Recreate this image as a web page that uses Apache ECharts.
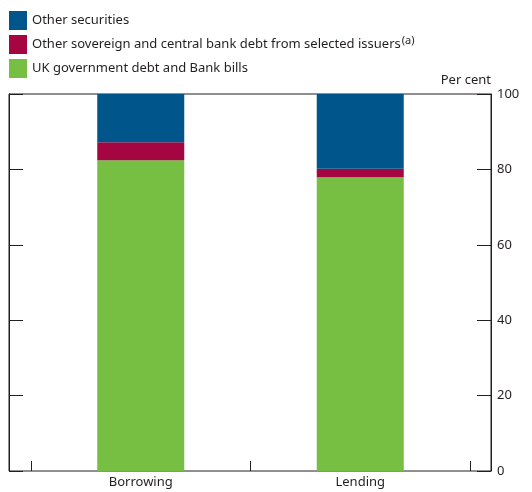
<!DOCTYPE html>
<html>
<head>
<meta charset="utf-8">
<script src="https://cdn.jsdelivr.net/npm/echarts@6/dist/echarts.min.js"></script>
<style>
  * { margin: 0; padding: 0; }
  #main { width: 532px; height: 492px; }
</style>
</head>
<body>
<div id="main"></div>
<script type="text/javascript">
  var categories = ['Borrowing', 'Lending'];
  var ukGov = [82.4, 77.9];
  var otherSov = [4.8, 2.3];
  var otherSec = [12.8, 19.8];
  var yTicks = [0, 20, 40, 60, 80, 100];

  var ink = '#231f20';
  var font = 'Noto Sans';

  var chart = echarts.init(document.getElementById('main'));

  // frame grid, bar grid, and right-axis grid share the same vertical extent
  var frame = { left: 9, right: 41, top: 94, bottom: 21, outerBoundsMode: 'none' };

  var option = {
    animation: false,
    textStyle: { fontFamily: font, color: ink },
    legend: {
      orient: 'vertical',
      left: 9,
      top: 11,
      padding: 0,
      itemWidth: 18,
      itemHeight: 19,
      itemGap: 5,
      icon: 'rect',
      data: ['Other securities', 'Other sovereign', 'UK government debt and Bank bills'],
      formatter: function (name) {
        if (name === 'Other sovereign') {
          return '{t|Other sovereign and central bank debt from selected issuers}{sup|(a)}';
        }
        return '{t|' + name + '}';
      },
      textStyle: {
        fontFamily: font,
        fontSize: 13,
        color: ink,
        rich: {
          t: { fontFamily: font, fontSize: 13, color: ink },
          sup: { fontFamily: font, fontSize: 11, color: ink, padding: [0, 0, 8, 1] }
        }
      }
    },
    grid: [
      Object.assign({ show: true, borderColor: ink, borderWidth: 1, backgroundColor: 'transparent' }, frame),
      { left: 31, right: 62, top: 94, bottom: 21, outerBoundsMode: 'none' },
      Object.assign({}, frame)
    ],
    xAxis: [
      { gridIndex: 0, type: 'value', min: 0, max: 1, show: false },
      {
        gridIndex: 1,
        type: 'category',
        data: categories,
        axisLine: { show: false },
        axisTick: { show: true, inside: true, length: 10, lineStyle: { color: ink } },
        axisLabel: { color: ink, fontSize: 13, fontFamily: font, margin: 5 }
      },
      { gridIndex: 2, type: 'value', min: 0, max: 1, show: false }
    ],
    yAxis: [
      {
        gridIndex: 0,
        type: 'value',
        position: 'left',
        min: 0,
        max: 100,
        interval: 20,
        axisLine: { show: true, onZero: false, lineStyle: { color: ink } },
        axisTick: { show: true, inside: true, length: 14, lineStyle: { color: ink } },
        axisLabel: { show: false },
        splitLine: { show: false }
      },
      { gridIndex: 1, type: 'value', min: 0, max: 100, show: false },
      {
        gridIndex: 2,
        type: 'value',
        position: 'right',
        min: 0,
        max: 100,
        interval: 20,
        name: 'Per cent',
        nameLocation: 'end',
        nameGap: 7,
        nameTextStyle: { color: ink, fontSize: 13, fontFamily: font, align: 'right' },
        axisLine: { show: true, onZero: false, lineStyle: { color: ink } },
        axisTick: { show: true, inside: true, length: 14, lineStyle: { color: ink } },
        axisLabel: {
          color: ink, fontSize: 13, fontFamily: font, margin: 6,
          formatter: function (v) { return yTicks.indexOf(v) >= 0 ? String(v) : ''; }
        },
        splitLine: { show: false }
      }
    ],
    series: [
      {
        name: 'UK government debt and Bank bills',
        type: 'bar', stack: 'total', xAxisIndex: 1, yAxisIndex: 1,
        barWidth: 87,
        itemStyle: { color: '#76bf43' },
        data: ukGov
      },
      {
        name: 'Other sovereign',
        type: 'bar', stack: 'total', xAxisIndex: 1, yAxisIndex: 1,
        barWidth: 87,
        itemStyle: { color: '#a50641' },
        data: otherSov
      },
      {
        name: 'Other securities',
        type: 'bar', stack: 'total', xAxisIndex: 1, yAxisIndex: 1,
        barWidth: 87,
        itemStyle: { color: '#00558b' },
        data: otherSec
      }
    ]
  };

  chart.setOption(option);
</script>
</body>
</html>
